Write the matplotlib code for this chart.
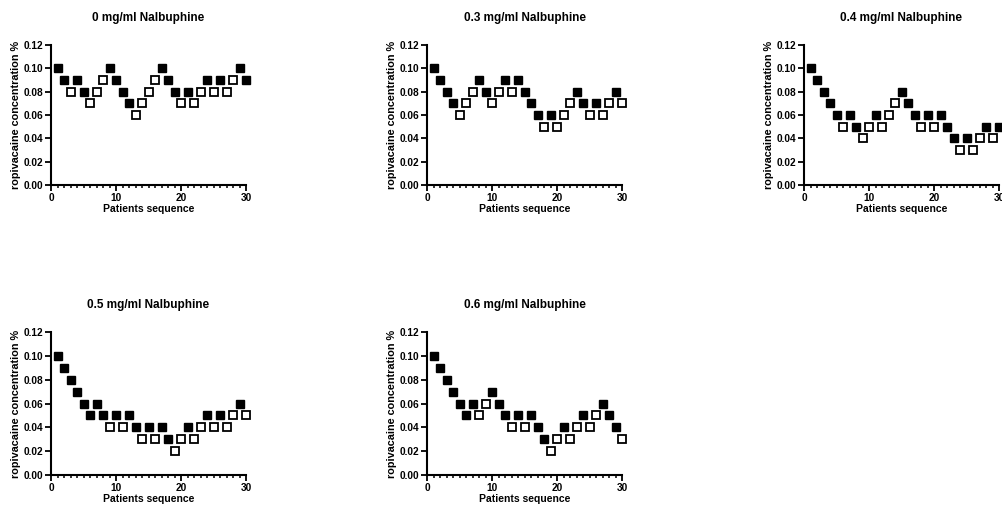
import numpy as np
import matplotlib
matplotlib.use('Agg')
from matplotlib import pyplot as plt
from matplotlib.ticker import MultipleLocator

plt.rcParams['font.family'] = ['Liberation Sans', 'DejaVu Sans']
plt.rcParams['font.weight'] = 'bold'

titles = ['0 mg/ml Nalbuphine', '0.3 mg/ml Nalbuphine', '0.4 mg/ml Nalbuphine',
          '0.5 mg/ml Nalbuphine', '0.6 mg/ml Nalbuphine']

patients = list(range(1, 31))

# concentration per patient, and whether the block was effective (1 = filled square)
conc_0 = [0.10, 0.09, 0.08, 0.09, 0.08, 0.07, 0.08, 0.09, 0.10, 0.09,
          0.08, 0.07, 0.06, 0.07, 0.08, 0.09, 0.10, 0.09, 0.08, 0.07,
          0.08, 0.07, 0.08, 0.09, 0.08, 0.09, 0.08, 0.09, 0.10, 0.09]
eff_0 = [1, 1, 0, 1, 1, 0, 0, 0, 1, 1, 1, 1, 0, 0, 0, 0, 1, 1, 1, 0,
         1, 0, 0, 1, 0, 1, 0, 0, 1, 1]

conc_03 = [0.10, 0.09, 0.08, 0.07, 0.06, 0.07, 0.08, 0.09, 0.08, 0.07,
           0.08, 0.09, 0.08, 0.09, 0.08, 0.07, 0.06, 0.05, 0.06, 0.05,
           0.06, 0.07, 0.08, 0.07, 0.06, 0.07, 0.06, 0.07, 0.08, 0.07]
eff_03 = [1, 1, 1, 1, 0, 0, 0, 1, 1, 0, 0, 1, 0, 1, 1, 1, 1, 0, 1, 0,
          0, 0, 1, 1, 0, 1, 0, 0, 1, 0]

conc_04 = [0.10, 0.09, 0.08, 0.07, 0.06, 0.05, 0.06, 0.05, 0.04, 0.05,
           0.06, 0.05, 0.06, 0.07, 0.08, 0.07, 0.06, 0.05, 0.06, 0.05,
           0.06, 0.05, 0.04, 0.03, 0.04, 0.03, 0.04, 0.05, 0.04, 0.05]
eff_04 = [1, 1, 1, 1, 1, 0, 1, 1, 0, 0, 1, 0, 0, 0, 1, 1, 1, 0, 1, 0,
          1, 1, 1, 0, 1, 0, 0, 1, 0, 1]

conc_05 = [0.10, 0.09, 0.08, 0.07, 0.06, 0.05, 0.06, 0.05, 0.04, 0.05,
           0.04, 0.05, 0.04, 0.03, 0.04, 0.03, 0.04, 0.03, 0.02, 0.03,
           0.04, 0.03, 0.04, 0.05, 0.04, 0.05, 0.04, 0.05, 0.06, 0.05]
eff_05 = [1, 1, 1, 1, 1, 1, 1, 1, 0, 1, 0, 1, 1, 0, 1, 0, 1, 1, 0, 0,
          1, 0, 0, 1, 0, 1, 0, 0, 1, 0]

conc_06 = [0.10, 0.09, 0.08, 0.07, 0.06, 0.05, 0.06, 0.05, 0.06, 0.07,
           0.06, 0.05, 0.04, 0.05, 0.04, 0.05, 0.04, 0.03, 0.02, 0.03,
           0.04, 0.03, 0.04, 0.05, 0.04, 0.05, 0.06, 0.05, 0.04, 0.03]
eff_06 = [1, 1, 1, 1, 1, 1, 1, 0, 0, 1, 1, 1, 0, 1, 0, 1, 1, 1, 0, 0,
          1, 0, 0, 1, 0, 0, 1, 1, 1, 0]

concs = [conc_0, conc_03, conc_04, conc_05, conc_06]
effs = [eff_0, eff_03, eff_04, eff_05, eff_06]

fig = plt.figure(figsize=(10.02, 5.12), dpi=100)

W, H = 1002, 512
lefts = [51, 427, 804, 51, 427]
bottoms = [185, 185, 185, 475, 475]
tops = [45, 45, 45, 332, 332]

for i in range(5):
    l, b, t = lefts[i], bottoms[i], tops[i]
    ax = fig.add_axes([l / W, 1 - b / H, 195 / W, (b - t) / H])
    x = np.array(patients)
    y = np.array(concs[i])
    e = np.array(effs[i], dtype=bool)
    ax.plot(x[e], y[e], 's', color='black', markersize=5.6, clip_on=False)
    ax.plot(x[~e], y[~e], 's', markerfacecolor='white', markeredgecolor='black',
            markeredgewidth=1.3, markersize=5.6, clip_on=False)
    ax.set_xlim(0, 30)
    ax.set_ylim(0, 0.12)
    ax.xaxis.set_major_locator(MultipleLocator(10))
    ax.xaxis.set_minor_locator(MultipleLocator(1))
    ax.yaxis.set_major_locator(MultipleLocator(0.02))
    ax.yaxis.set_major_formatter(plt.FormatStrFormatter('%.2f'))
    for s in ['top', 'right']:
        ax.spines[s].set_visible(False)
    for s in ['left', 'bottom']:
        ax.spines[s].set_linewidth(1.5)
    ax.tick_params(which='major', length=4, width=1.3, labelsize=7.3, pad=1.5)
    ax.tick_params(which='minor', length=2.5, width=1.1)
    ax.set_title(titles[i], fontsize=8.5, fontweight='bold', pad=17)
    ax.set_xlabel('Patients sequence', fontsize=7.5, fontweight='bold', labelpad=1)
    ax.set_ylabel('ropivacaine concentration %', fontsize=7.8, fontweight='bold', labelpad=2)

fig.savefig('out.png', dpi=100)
